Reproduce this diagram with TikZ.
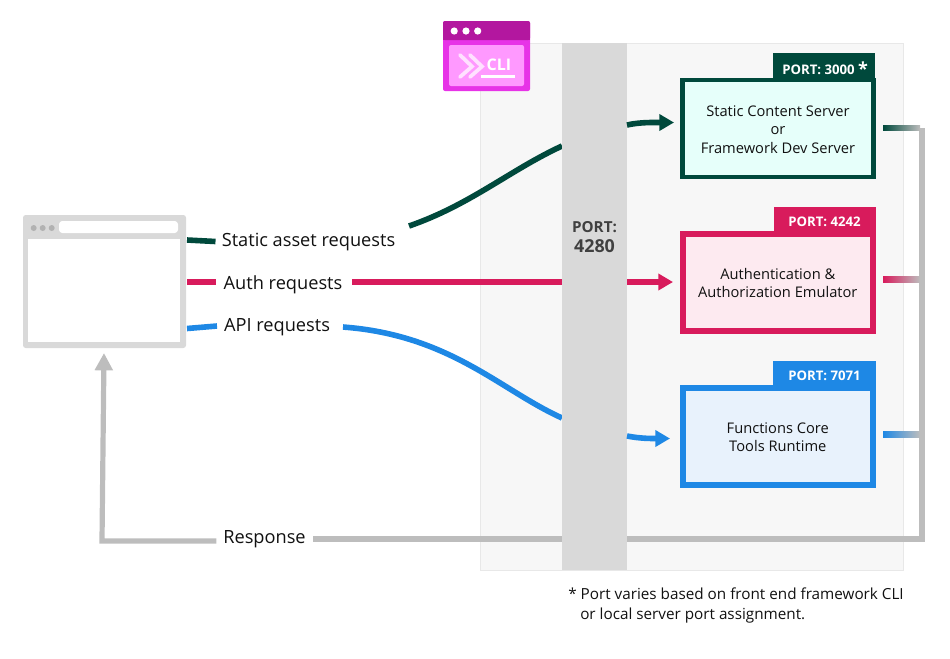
\documentclass[tikz,border=0pt]{standalone}
\usepackage{fontspec}
\setmainfont{Open Sans}
\usetikzlibrary{arrows.meta}
\definecolor{cgreen}{HTML}{00493C}
\definecolor{cpink}{HTML}{D81B5C}
\definecolor{cblue}{HTML}{1E88E5}
\definecolor{cgray}{HTML}{BDBDBD}
\definecolor{cframe}{HTML}{D9D9D9}
\definecolor{ctext}{HTML}{111111}
\tikzset{
  x=0.75pt,y=-0.75pt,
  lbl/.style={font=\fontsize{13.65}{16}\selectfont,text=ctext,inner xsep=5pt,inner ysep=0pt},
  boxtext/.style={font=\fontsize{11}{13.7}\selectfont,text=ctext,align=center,inner sep=0pt},
  porttab/.style={font=\fontsize{9.9}{12}\selectfont\bfseries,text=white,inner sep=0pt},
  servbox/.style={draw=#1,inner sep=0pt},
  wire/.style={line width=4.2pt,#1},
  tipwire/.style={line width=4.2pt,#1,-{Triangle[length=11pt,width=12pt]}},
  gradwire/.style={left color=#1,right color=cgray,draw=none},
  note/.style={font=\fontsize{11.45}{13}\selectfont,text=ctext,anchor=west,inner sep=0pt},
  gwlabel/.style={inner sep=0pt,text=black!75,font=\bfseries},
}
\begin{document}
\begin{tikzpicture}
\useasboundingbox (0,0) rectangle (950,658);
% panel
\node[name=panel,fill=black!3,draw=black!9,line width=0.6pt,minimum width=423*0.75pt,minimum height=527*0.75pt,inner sep=0pt] at (691.5,306.5) {};
% CLI icon
\node[name=cli,fill=none,inner sep=0pt,minimum width=87*0.75pt,minimum height=70*0.75pt] at (486.5,56) {};
\fill[rounded corners=1.5pt,fill={rgb,255:red,231;green,51;blue,231}] (443,21) rectangle (530,91);
\fill[rounded corners=1.5pt,fill={rgb,255:red,179;green,23;blue,159}] (443,21) rectangle (530,40);
\fill[fill={rgb,255:red,179;green,23;blue,159}] (443,30) rectangle (530,40);
\fill[rounded corners=1.5pt,fill={rgb,255:red,255;green,153;blue,255}] (449,45) rectangle (524,86);
\foreach \cx in {454.2,466,477.7} \fill[white] (\cx,31) circle (3.6);
\draw[line width=2.8pt,color={rgb,255:red,255;green,225;blue,255},line cap=round] (460,55) -- (472,66.5) -- (460,77);
\draw[line width=2.8pt,color={rgb,255:red,255;green,225;blue,255},line cap=round] (470,55) -- (482,66.5) -- (470,77);
\node[name=clitext,font=\fontsize{12}{12}\selectfont\bfseries,text=white,inner sep=0pt] at (499,64.5) {CLI};
\fill[white] (481,74.5) rectangle (515,78);
% browser
\node[name=browser,fill=cframe,rounded corners=2pt,inner sep=0pt,minimum width=163*0.75pt,minimum height=133*0.75pt] at (104.5,281.5) {};
\fill[white] (28,239) rectangle (180,342);
\fill[white,rounded corners=2.5pt] (59,221) rectangle (178,233);
\foreach \cx in {33.7,42.7,51.7} \fill[black!30] (\cx,228) circle (3);
% labels
\node[lbl,name=lblStatic] at (308.5,242) {Static asset requests};
\node[lbl,name=lblAuth] at (283,285) {Auth requests};
\node[lbl,name=lblApi] at (277,327) {API requests};
\node[lbl,name=lblResp] at (264.5,539.5) {Response};
% named free ends
\coordinate (gs0) at (187,240);
\coordinate (gs1) at (215.5,241.5);
\coordinate (gc0) at (409,226);
\coordinate (gc1) at (562,146);
\coordinate (gc2) at (627,125);
\coordinate (gc3) at (674,122.5);
\coordinate (ps0) at (352,282);
\coordinate (pc3) at (673,282);
\coordinate (bs0) at (187,328.5);
\coordinate (bs1) at (217,326);
\coordinate (bc0) at (343,327);
\coordinate (bc1) at (562,418);
\coordinate (bc2) at (627,436);
\coordinate (bc3) at (670,438.5);
% connectors under the gateway
\draw[wire=cgreen] (gs0) -- (gs1);
\draw[wire=cgreen] (gc0) .. controls (470,205) and (510,170) .. (gc1);
\draw[wire=cpink] (187,282) -- (216,282);
\draw[wire=cpink] (ps0) -- (600,282);
\draw[wire=cblue] (bs0) -- (bs1);
\draw[wire=cblue] (bc0) .. controls (450,335) and (500,390) .. (bc1);
% response line
\coordinate (rA) at (922,128);
\coordinate (rB) at (922,539);
\coordinate (rC) at (102,541);
\draw[line width=3.9pt,cgray,line join=miter] (rA) -- (rB) -- (lblResp.east |- rB);
\draw[line width=3.9pt,cgray,-{Triangle[length=13pt,width=13pt]}] (lblResp.west |- rC) -- (rC) -- (104,353);
% gateway
\node[name=gateway,fill=cframe,inner sep=0pt,minimum width=65*0.75pt,minimum height=527*0.75pt] at (594.5,306.5) {};
\node[gwlabel,name=gwport] at (594.5,227) {\fontsize{11.4}{14}\selectfont PORT:};
\node[gwlabel,name=gwnum] at (594.5,246.5) {\fontsize{13.4}{15}\selectfont 4280};
% servers
\node[servbox=cgreen,line width=3.2pt,fill={rgb,255:red,230;green,255;blue,250},minimum width=191*0.75pt,minimum height=97*0.75pt,name=box1] at (778,128.8) {};
\node[fill=cgreen,minimum width=102*0.75pt,minimum height=25*0.75pt,inner sep=0pt,name=tab1] at (824.3,65.8) {};
\node[porttab,anchor=west] (port1) at (782,68.5) {PORT: 3000 {\fontsize{13.5}{12}\selectfont\raisebox{-1pt}{*}}};
\node[boxtext,name=box1text] at (778,129.5) {Static Content Server\\or\\Framework Dev Server};
\node[servbox=cpink,line width=4.5pt,fill={rgb,255:red,253;green,234;blue,240},minimum width=190.5*0.75pt,minimum height=97*0.75pt,name=box2] at (777.8,282.5) {};
\node[fill=cpink,minimum width=102*0.75pt,minimum height=25*0.75pt,inner sep=0pt,name=tab2] at (825,219.2) {};
\node[porttab] (port2) at (824.5,221.5) {PORT: 4242};
\node[boxtext,name=box2text] at (777.8,283) {Authentication \&\\Authorization Emulator};
\node[servbox=cblue,line width=4.5pt,fill={rgb,255:red,232;green,242;blue,252},minimum width=190.5*0.75pt,minimum height=97*0.75pt,name=box3] at (777.8,436) {};
\node[fill=cblue,minimum width=103*0.75pt,minimum height=25*0.75pt,inner sep=0pt,name=tab3] at (824.5,373.5) {};
\node[porttab] (port3) at (824.5,376) {PORT: 7071};
\node[boxtext,name=box3text] at (777.8,437) {Functions Core\\Tools Runtime};
% connectors into servers
\draw[tipwire=cgreen] (gc2) .. controls (640,122) and (655,122.5) .. (gc3);
\draw[tipwire=cpink] (627,282) -- (pc3);
\draw[tipwire=cblue] (bc2) .. controls (640,438.5) and (650,438.5) .. (bc3);
% outgoing stubs
\path[gradwire=cgreen] (883,125.2) rectangle (920,130.7);
\path[gradwire=cpink] (883,276.5) rectangle (920,282);
\path[gradwire=cblue] (883,431.5) rectangle (920,437);
% footnote
\node[note,name=note1] at (568,594) {* Port varies based on front end framework CLI};
\node[note,name=note2] at (580,616) {or local server port assignment.};
\end{tikzpicture}
\end{document}
